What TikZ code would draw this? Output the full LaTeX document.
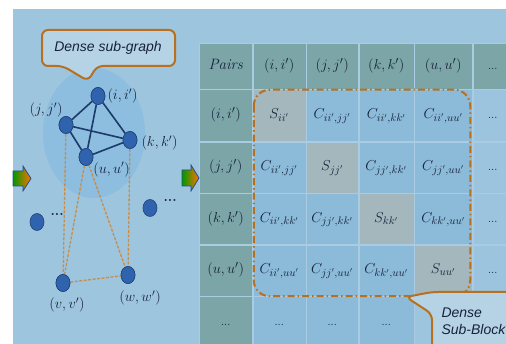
\documentclass[tikz,border=0pt]{standalone}
\usepackage{amsmath}
\usepackage{fontspec}
\usepackage{tikz}
\usetikzlibrary{positioning,shapes.geometric,matrix}
\newfontfamily\notefont{Liberation Sans}

\definecolor{bgblue}{HTML}{9EC5DE}
\definecolor{blobblue}{HTML}{8DBDDF}
\definecolor{headgray}{HTML}{7CA5A7}
\definecolor{selfgray}{HTML}{A4B7BD}
\definecolor{pairblue}{HTML}{8CBBD9}
\definecolor{moreblue}{HTML}{9CC4DE}
\definecolor{vertexblue}{HTML}{2F63AE}
\definecolor{edgenavy}{HTML}{1C3A6A}
\definecolor{rust}{HTML}{B8701E}
\definecolor{inkdark}{HTML}{16223A}

\newcommand{\moredots}{\scriptstyle\ldots}

\tikzset{
  vertex/.style={ellipse, fill=vertexblue, draw=vertexblue!70!black, line width=0.6pt,
    minimum width=14pt, minimum height=17pt, inner sep=0pt},
  vlabel/.style={text=inkdark, font=\fontsize{14}{16}\selectfont, inner sep=1pt},
  strong/.style={draw=edgenavy, line width=1.6pt},
  weak/.style={draw=rust!80!white, line width=1.3pt, dash pattern=on 3pt off 1.5pt},
  note/.style={draw=rust, line width=2pt, fill=bgblue!75!white, rounded corners=6pt},
  notetext/.style={text=inkdark, font=\notefont\itshape\fontsize{14}{17}\selectfont, align=left},
  cell/.style={draw=pairblue!75!white, line width=0.5pt, fill=pairblue, outer sep=0pt,
    inner sep=0pt, anchor=center, text height=10pt, text depth=4pt,
    text=inkdark, font=\fontsize{15}{17}\selectfont},
  headcell/.style={fill=headgray},
  selfcell/.style={fill=selfgray},
  morecell/.style={fill=moreblue},
  blockline/.style={draw=rust, line width=2pt, rounded corners=16pt,
    dash pattern=on 7pt off 3pt on 1.5pt off 3pt},
  flowarrow/.style={draw=vertexblue!80!black, line width=0.8pt, left color=green!60!black,
    middle color=yellow!85!orange, right color=orange!90!red}
}

\begin{document}
\begin{tikzpicture}[x=1pt, y=-1pt]
  \useasboundingbox (0,0) rectangle (506,344);
  \clip (0,0) rectangle (506,344);
  \fill[bgblue] (13,9) rectangle (506,344);

  % dense sub-graph
  \fill[blobblue] (94,133) ellipse [x radius=51pt, y radius=65pt];

  \node (i) [vertex] at (98,96) {};
  \node (j) [vertex] at (66,125) {};
  \node (k) [vertex] at (130,140) {};
  \node (u) [vertex] at (86,157) {};
  \node (v) [vertex] at (63,283) {};
  \node (w) [vertex] at (128,275) {};
  \node (lone1) [vertex] at (37,222) {};
  \node (lone2) [vertex] at (150,208) {};

  \draw [weak] (j) -- (v);
  \draw [weak] (k) -- (w);
  \draw [weak] (u) -- (v);
  \draw [weak] (u) -- (w);
  \draw [weak] (v) -- (w);
  \draw [strong] (i) -- (j);
  \draw [strong] (i) -- (k);
  \draw [strong] (i) -- (u);
  \draw [strong] (j) -- (k);
  \draw [strong] (j) -- (u);
  \draw [strong] (u) -- (k);
  \foreach \n in {i,j,k,u,v,w}
    \node [vertex] at (\n) {};

  \node (ilab) [vlabel, right=1pt of i] {$(i,i')$};
  \node (jlab) [vlabel, above left=0pt and -3pt of j] {$(j,j')$};
  \node (klab) [vlabel, right=3pt of k, yshift=-3pt] {$(k,k')$};
  \node (ulab) [vlabel, below right=-2pt and 1pt of u] {$(u,u')$};
  \node (vlab) [vlabel, below=5pt of v, xshift=4pt] {$(v,v')$};
  \node (wlab) [vlabel, below=6pt of w, xshift=12pt] {$(w,w')$};
  \node (dots1) [vlabel, right=5pt of lone1, yshift=8pt] {\bfseries ...};
  \node (dots2) [vlabel, right=5pt of lone2, yshift=8pt] {\bfseries ...};

  \draw [note] (88,81) -- (63,66) -- (42,66) -- (42,30) -- (175,30) -- (175,66) -- (97,66) -- cycle;
  \node (graphnote) [notetext] at (108,48) {Dense sub-graph};

  % similarity table
  \matrix (tab) [matrix of math nodes, anchor=north west, inner sep=0pt, outer sep=0pt,
    row sep=0pt, column sep=0pt,
    nodes={cell},
    column 1/.style={nodes={headcell, minimum width=53pt}},
    column 2/.style={nodes={minimum width=53pt}},
    column 3/.style={nodes={minimum width=52pt}},
    column 4/.style={nodes={minimum width=55pt}},
    column 5/.style={nodes={minimum width=58pt}},
    column 6/.style={nodes={morecell, minimum width=40pt}},
    row 1/.style={nodes={headcell, minimum height=46pt}},
    row 2/.style={nodes={minimum height=52pt}},
    row 3/.style={nodes={minimum height=51pt}},
    row 4/.style={nodes={minimum height=51pt}},
    row 5/.style={nodes={minimum height=51pt}},
    row 6/.style={nodes={minimum height=52pt}}] at (199,43) {
    \mathit{Pairs} & (i,i') & (j,j') & (k,k') & (u,u') & \moredots \\
    (i,i') & |[selfcell]| S_{ii'} & C_{ii',jj'} & C_{ii',kk'} & C_{ii',uu'} & \moredots \\
    (j,j') & C_{ii',jj'} & |[selfcell]| S_{jj'} & C_{jj',kk'} & C_{jj',uu'} & \moredots \\
    (k,k') & C_{ii',kk'} & C_{jj',kk'} & |[selfcell]| S_{kk'} & C_{kk',uu'} & \moredots \\
    (u,u') & C_{ii',uu'} & C_{jj',uu'} & C_{kk',uu'} & |[selfcell]| S_{uu'} & \moredots \\
    \moredots & \moredots & \moredots & \moredots & & \\
  };

  \draw [blockline] ([xshift=1pt]tab-2-2.north west) rectangle ([xshift=-2pt]tab-5-5.south east);

  \draw [note] (406,297) -- (432,292) -- (520,292) -- (520,352) -- (432,352) -- (432,314) -- cycle;
  \node (blocknote) [notetext, anchor=west] at (438,321) {Dense\\Sub-Block};

  % flow arrows
  \shadedraw [flowarrow] (13,171) -- (23,171) -- (23,166) -- (31,178.5) -- (23,191) -- (23,186) -- (13,186) -- cycle;
  \shadedraw [flowarrow] (182,170) -- (191,170) -- (191,165) -- (199,178) -- (191,191) -- (191,186) -- (182,186) -- cycle;
\end{tikzpicture}
\end{document}
